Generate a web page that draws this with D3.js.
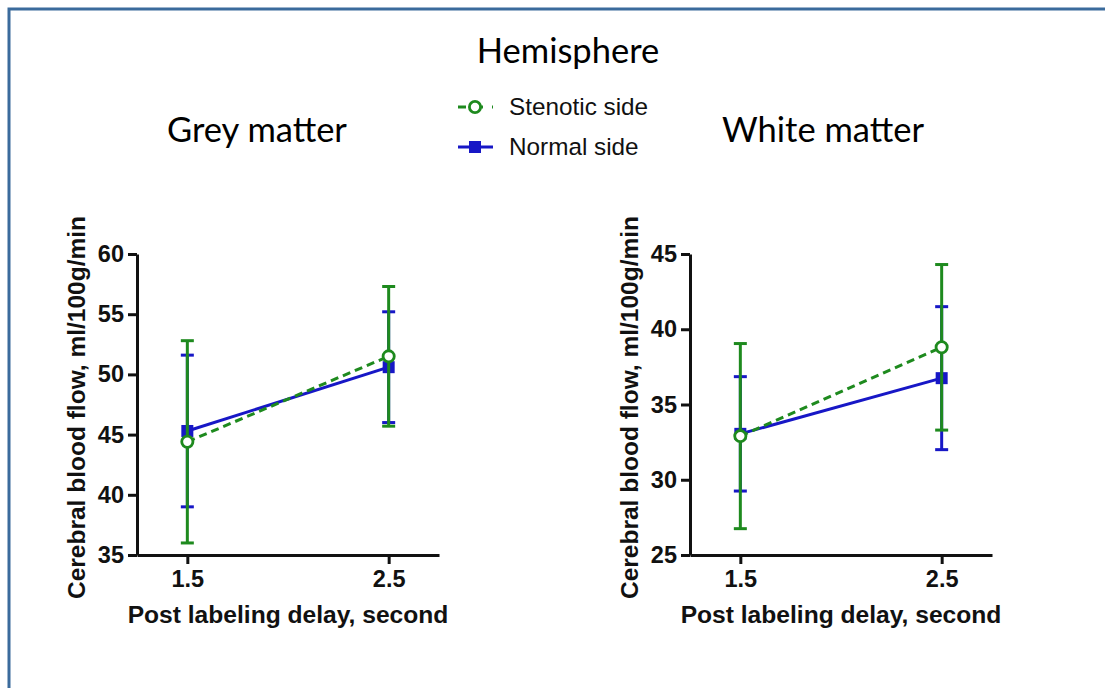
<!DOCTYPE html>
<html>
<head>
<meta charset="utf-8">
<script src="https://cdn.jsdelivr.net/npm/d3@7"></script>
<style>
    body { margin: 0; background: #fff; }
    svg { display: block; }
</style>
</head>
<body>
<svg id="vis" width="1105" height="688"></svg>
<script>
const svg = d3.select("#vis");

const GREEN = "#1e8a1e";
const BLUE = "#1717c6";

// data
const delays = [1.5, 2.5];
const xTicks = [1.5, 2.5];

const greyStenoticMean = [44.4, 51.5];
const greyStenoticSD = [8.4, 5.8];
const greyNormalMean = [45.3, 50.6];
const greyNormalSD = [6.3, 4.6];
const greyYTicks = [35, 40, 45, 50, 55, 60];

const whiteStenoticMean = [32.9, 38.8];
const whiteStenoticSD = [6.15, 5.5];
const whiteNormalMean = [33.05, 36.75];
const whiteNormalSD = [3.8, 4.75];
const whiteYTicks = [25, 30, 35, 40, 45];

const seriesNames = ["Stenotic side", "Normal side"];

// frame border (right/bottom are off-canvas)
svg.append("rect")
    .attr("x", 9).attr("y", 9)
    .attr("width", 1200).attr("height", 800)
    .attr("fill", "none")
    .attr("stroke", "#3b6b9c")
    .attr("stroke-width", 3);

svg.append("text")
    .attr("x", 568).attr("y", 63)
    .attr("text-anchor", "middle")
    .style("font-family", "Lato, 'Open Sans', sans-serif")
    .style("font-size", "34.5px")
    .text("Hemisphere");

function makeSeries(mean, sd) {
    return delays.map((d, i) => ({x: d, y: mean[i], lo: mean[i] - sd[i], hi: mean[i] + sd[i]}));
}

function drawPanel(opts) {
    const g = svg.append("g");
    const xscale = d3.scaleLinear().domain([1.25, 2.75]).range([opts.left, opts.left + 302]);
    const yscale = d3.scaleLinear().domain(opts.yDomain).range([555, 254]);

    g.append("text")
        .attr("x", opts.titleX).attr("y", 142)
        .attr("text-anchor", "middle")
        .style("font-family", "Lato, 'Open Sans', sans-serif")
        .style("font-size", "34.5px")
        .text(opts.title);

    const xAxis = g.append("g")
        .attr("transform", "translate(0,555)")
        .call(d3.axisBottom(xscale).tickValues(xTicks).tickFormat(d3.format(".1f"))
            .tickSize(9).tickSizeOuter(0).tickPadding(6));
    const yAxis = g.append("g")
        .attr("transform", `translate(${opts.left},0)`)
        .call(d3.axisLeft(yscale).tickValues(opts.yTicks)
            .tickSize(9).tickSizeOuter(0).tickPadding(4));

    [xAxis, yAxis].forEach(ax => {
        ax.select(".domain").attr("stroke", "#111").attr("stroke-width", 3);
        ax.selectAll(".tick line").attr("stroke", "#111").attr("stroke-width", 3);
        ax.selectAll(".tick text")
            .attr("fill", "#111")
            .style("font-family", "'Liberation Sans', Arial, sans-serif")
            .style("font-weight", "bold")
            .style("font-size", "23.5px");
    });

    g.append("text")
        .attr("x", xscale(2)).attr("y", 623)
        .attr("text-anchor", "middle")
        .style("font-family", "'Liberation Sans', Arial, sans-serif")
        .style("font-weight", "bold")
        .style("font-size", "24.6px")
        .attr("fill", "#111")
        .text("Post labeling delay, second");

    g.append("text")
        .attr("transform", `translate(${opts.left - 52},${(254 + 555) / 2 + 3}) rotate(-90)`)
        .attr("text-anchor", "middle")
        .style("font-family", "'Liberation Sans', Arial, sans-serif")
        .style("font-weight", "bold")
        .style("font-size", "24.5px")
        .attr("fill", "#111")
        .text("Cerebral blood flow, ml/100g/min");

    const line = d3.line().x(d => xscale(d.x)).y(d => yscale(d.y));
    const CAP = 6.5;

    // normal side first, stenotic side on top
    const series = [
        {data: makeSeries(opts.normalMean, opts.normalSD), color: BLUE, dash: null, marker: "square"},
        {data: makeSeries(opts.stenoticMean, opts.stenoticSD), color: GREEN, dash: "8,5", marker: "circle"}
    ];

    series.forEach(s => {
        g.append("path")
            .datum(s.data)
            .attr("d", line)
            .attr("fill", "none")
            .attr("stroke", s.color)
            .attr("stroke-width", 3)
            .attr("stroke-dasharray", s.dash);
    });

    series.forEach(s => {
        const eb = g.selectAll(null).data(s.data).join("g");
        eb.append("line")
            .attr("x1", d => xscale(d.x)).attr("x2", d => xscale(d.x))
            .attr("y1", d => yscale(d.lo)).attr("y2", d => yscale(d.hi))
            .attr("stroke", s.color).attr("stroke-width", 3);
        ["lo", "hi"].forEach(k => {
            eb.append("line")
                .attr("x1", d => xscale(d.x) - CAP).attr("x2", d => xscale(d.x) + CAP)
                .attr("y1", d => yscale(d[k])).attr("y2", d => yscale(d[k]))
                .attr("stroke", s.color).attr("stroke-width", 3);
        });
        if (s.marker === "square") {
            eb.append("rect")
                .attr("x", d => xscale(d.x) - 6).attr("y", d => yscale(d.y) - 6)
                .attr("width", 12).attr("height", 12)
                .attr("fill", s.color);
        } else {
            eb.append("circle")
                .attr("cx", d => xscale(d.x)).attr("cy", d => yscale(d.y))
                .attr("r", 5.6)
                .attr("fill", "#fff")
                .attr("stroke", s.color).attr("stroke-width", 2.8);
        }
    });
}

drawPanel({
    left: 137, titleX: 257, title: "Grey matter", yDomain: [35, 60], yTicks: greyYTicks,
    stenoticMean: greyStenoticMean, stenoticSD: greyStenoticSD,
    normalMean: greyNormalMean, normalSD: greyNormalSD
});
drawPanel({
    left: 690, titleX: 823, title: "White matter", yDomain: [25, 45], yTicks: whiteYTicks,
    stenoticMean: whiteStenoticMean, stenoticSD: whiteStenoticSD,
    normalMean: whiteNormalMean, normalSD: whiteNormalSD
});

// legend
const legend = svg.append("g");
seriesNames.forEach((name, i) => {
    const y = 107 + i * 40;
    const color = i === 0 ? GREEN : BLUE;
    legend.append("line")
        .attr("x1", 458).attr("x2", 493).attr("y1", y).attr("y2", y)
        .attr("stroke", color).attr("stroke-width", 3)
        .attr("stroke-dasharray", i === 0 ? "8,9" : null);
    if (i === 0) {
        legend.append("circle").attr("cx", 475).attr("cy", y).attr("r", 5.6)
            .attr("fill", "#fff").attr("stroke", color).attr("stroke-width", 2.8);
    } else {
        legend.append("rect").attr("x", 469).attr("y", y - 6).attr("width", 12).attr("height", 12)
            .attr("fill", color);
    }
    legend.append("text")
        .attr("x", 509).attr("y", y + 8)
        .style("font-family", "'Liberation Sans', Arial, sans-serif")
        .style("font-size", "24.3px")
        .attr("fill", "#111")
        .text(name);
});
</script>
</body>
</html>
